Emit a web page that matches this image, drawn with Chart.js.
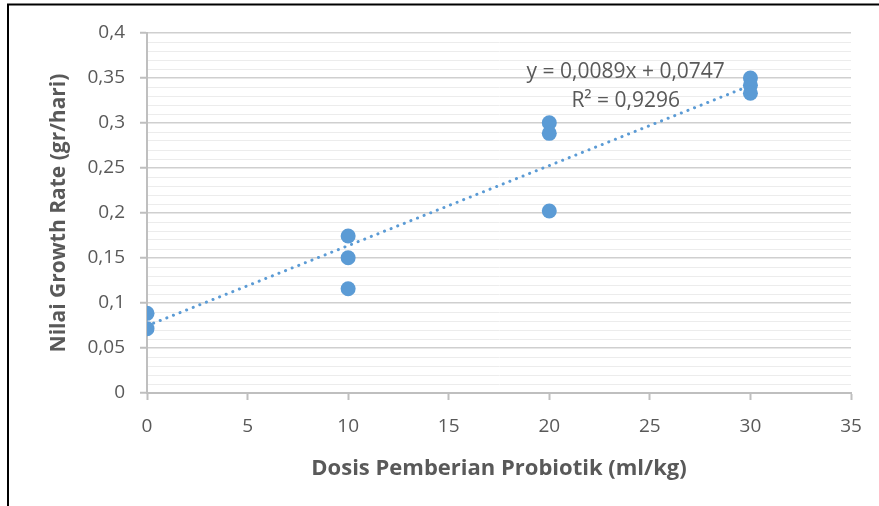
<!DOCTYPE html>
<html>
<head>
<meta charset="utf-8">
<script src="https://cdn.jsdelivr.net/npm/chart.js@4"></script>
<style>
  html, body { margin: 0; padding: 0; background: #ffffff; }
  #wrap { width: 879px; height: 506px; position: relative; }
</style>
</head>
<body>
<div id="wrap"><canvas id="c" width="879" height="506"></canvas></div>
<script>
// Data
const doseX = [0, 0, 10, 10, 10, 20, 20, 20, 30, 30, 30];
const growthY = [0.0885, 0.0715, 0.1744, 0.1503, 0.1159, 0.3003, 0.2885, 0.2022, 0.350, 0.342, 0.333];
const trendX = [0, 30];
const trendY = [0.0747, 0.3417];
const xTicks = [0, 5, 10, 15, 20, 25, 30, 35];
const yMajorTicks = [0, 0.05, 0.1, 0.15, 0.2, 0.25, 0.3, 0.35, 0.4];
const equationLines = ['y = 0,0089x + 0,0747', 'R\u00b2 = 0,9296'];
const xTitle = 'Dosis Pemberian Probiotik (ml/kg)';
const yTitle = 'Nilai Growth Rate (gr/hari)';

const TEXT = '#595959';
const BLUE = '#5B9BD5';
const FONT = "'Open Sans', 'DejaVu Sans', sans-serif";

const isMajor = v => yMajorTicks.some(m => Math.abs(m - v) < 1e-6);
const fmt = v => String(Math.round(v * 100) / 100).replace('.', ',');

const framePlugin = {
  id: 'frame',
  afterDraw(chart) {
    const ctx = chart.ctx;
    ctx.save();
    ctx.strokeStyle = '#000000';
    ctx.lineWidth = 2;
    ctx.beginPath();
    ctx.moveTo(8, 506);
    ctx.lineTo(8, 4.5);
    ctx.lineTo(879, 4.5);
    ctx.stroke();
    ctx.restore();
  }
};

const equationPlugin = {
  id: 'equation',
  afterDatasetsDraw(chart) {
    const ctx = chart.ctx;
    const xs = chart.scales.x, ys = chart.scales.y;
    const cx = xs.getPixelForValue(23.8);
    const y1 = ys.getPixelForValue(0.3567);
    const y2 = ys.getPixelForValue(0.3245);
    ctx.save();
    ctx.fillStyle = TEXT;
    ctx.font = "21px " + FONT;
    ctx.textAlign = 'center';
    ctx.textBaseline = 'middle';
    ctx.fillText(equationLines[0], cx, y1);
    ctx.fillText(equationLines[1], cx, y2);
    ctx.restore();
  }
};

new Chart(document.getElementById('c'), {
  type: 'scatter',
  data: {
    datasets: [
      {
        label: 'Trendline',
        type: 'line',
        data: trendX.map((x, i) => ({ x: x, y: trendY[i] })),
        borderColor: BLUE,
        borderWidth: 3,
        borderDash: [0.1, 7],
        borderCapStyle: 'round',
        pointRadius: 0,
        fill: false,
        tension: 0
      },
      {
        label: 'Growth Rate',
        data: doseX.map((x, i) => ({ x: x, y: growthY[i] })),
        backgroundColor: BLUE,
        borderColor: BLUE,
        pointRadius: 7.5,
        pointHoverRadius: 7.5,
        borderWidth: 0
      }
    ]
  },
  options: {
    responsive: false,
    animation: false,
    events: [],
    layout: { padding: { left: 40, right: 28, top: 33, bottom: 20 } },
    plugins: { legend: { display: false }, tooltip: { enabled: false } },
    scales: {
      x: {
        type: 'linear',
        min: 0, max: 35,
        afterBuildTicks: s => { s.ticks = xTicks.map(v => ({ value: v })); },
        ticks: {
          color: TEXT,
          font: { family: FONT, size: 19 },
          padding: 15,
          maxRotation: 0,
          autoSkip: false,
          callback: v => fmt(v)
        },
        grid: {
          drawOnChartArea: false,
          drawTicks: true,
          tickLength: 7,
          tickColor: '#bfbfbf',
          tickWidth: 2
        },
        border: { display: true, color: '#bfbfbf', width: 2 },
        title: {
          display: true,
          text: xTitle,
          color: TEXT,
          font: { family: FONT, size: 22, weight: 'bold' },
          padding: { top: 4, bottom: 4 }
        },
        afterFit: s => { s.height = 93; }
      },
      y: {
        type: 'linear',
        min: 0, max: 0.4,
        afterBuildTicks: s => {
          const t = [];
          for (let i = 0; i <= 40; i++) t.push({ value: i / 100 });
          s.ticks = t;
        },
        ticks: {
          color: TEXT,
          font: { family: FONT, size: 19 },
          padding: 15,
          autoSkip: false,
          callback: v => isMajor(v) ? fmt(v) : ''
        },
        grid: {
          drawOnChartArea: true,
          drawTicks: true,
          tickLength: 7,
          color: c => isMajor(c.tick.value) ? '#cfcfcf' : '#ececec',
          lineWidth: c => isMajor(c.tick.value) ? 1.5 : 1,
          tickColor: c => isMajor(c.tick.value) ? '#bfbfbf' : 'rgba(0,0,0,0)',
          tickWidth: 2
        },
        border: { display: true, color: '#bfbfbf', width: 2 },
        title: {
          display: true,
          text: yTitle,
          color: TEXT,
          font: { family: FONT, size: 21, weight: 'bold' },
          padding: { top: 6, bottom: 4 }
        },
        afterFit: s => { s.width = 107; }
      }
    }
  },
  plugins: [framePlugin, equationPlugin]
});
</script>
</body>
</html>
